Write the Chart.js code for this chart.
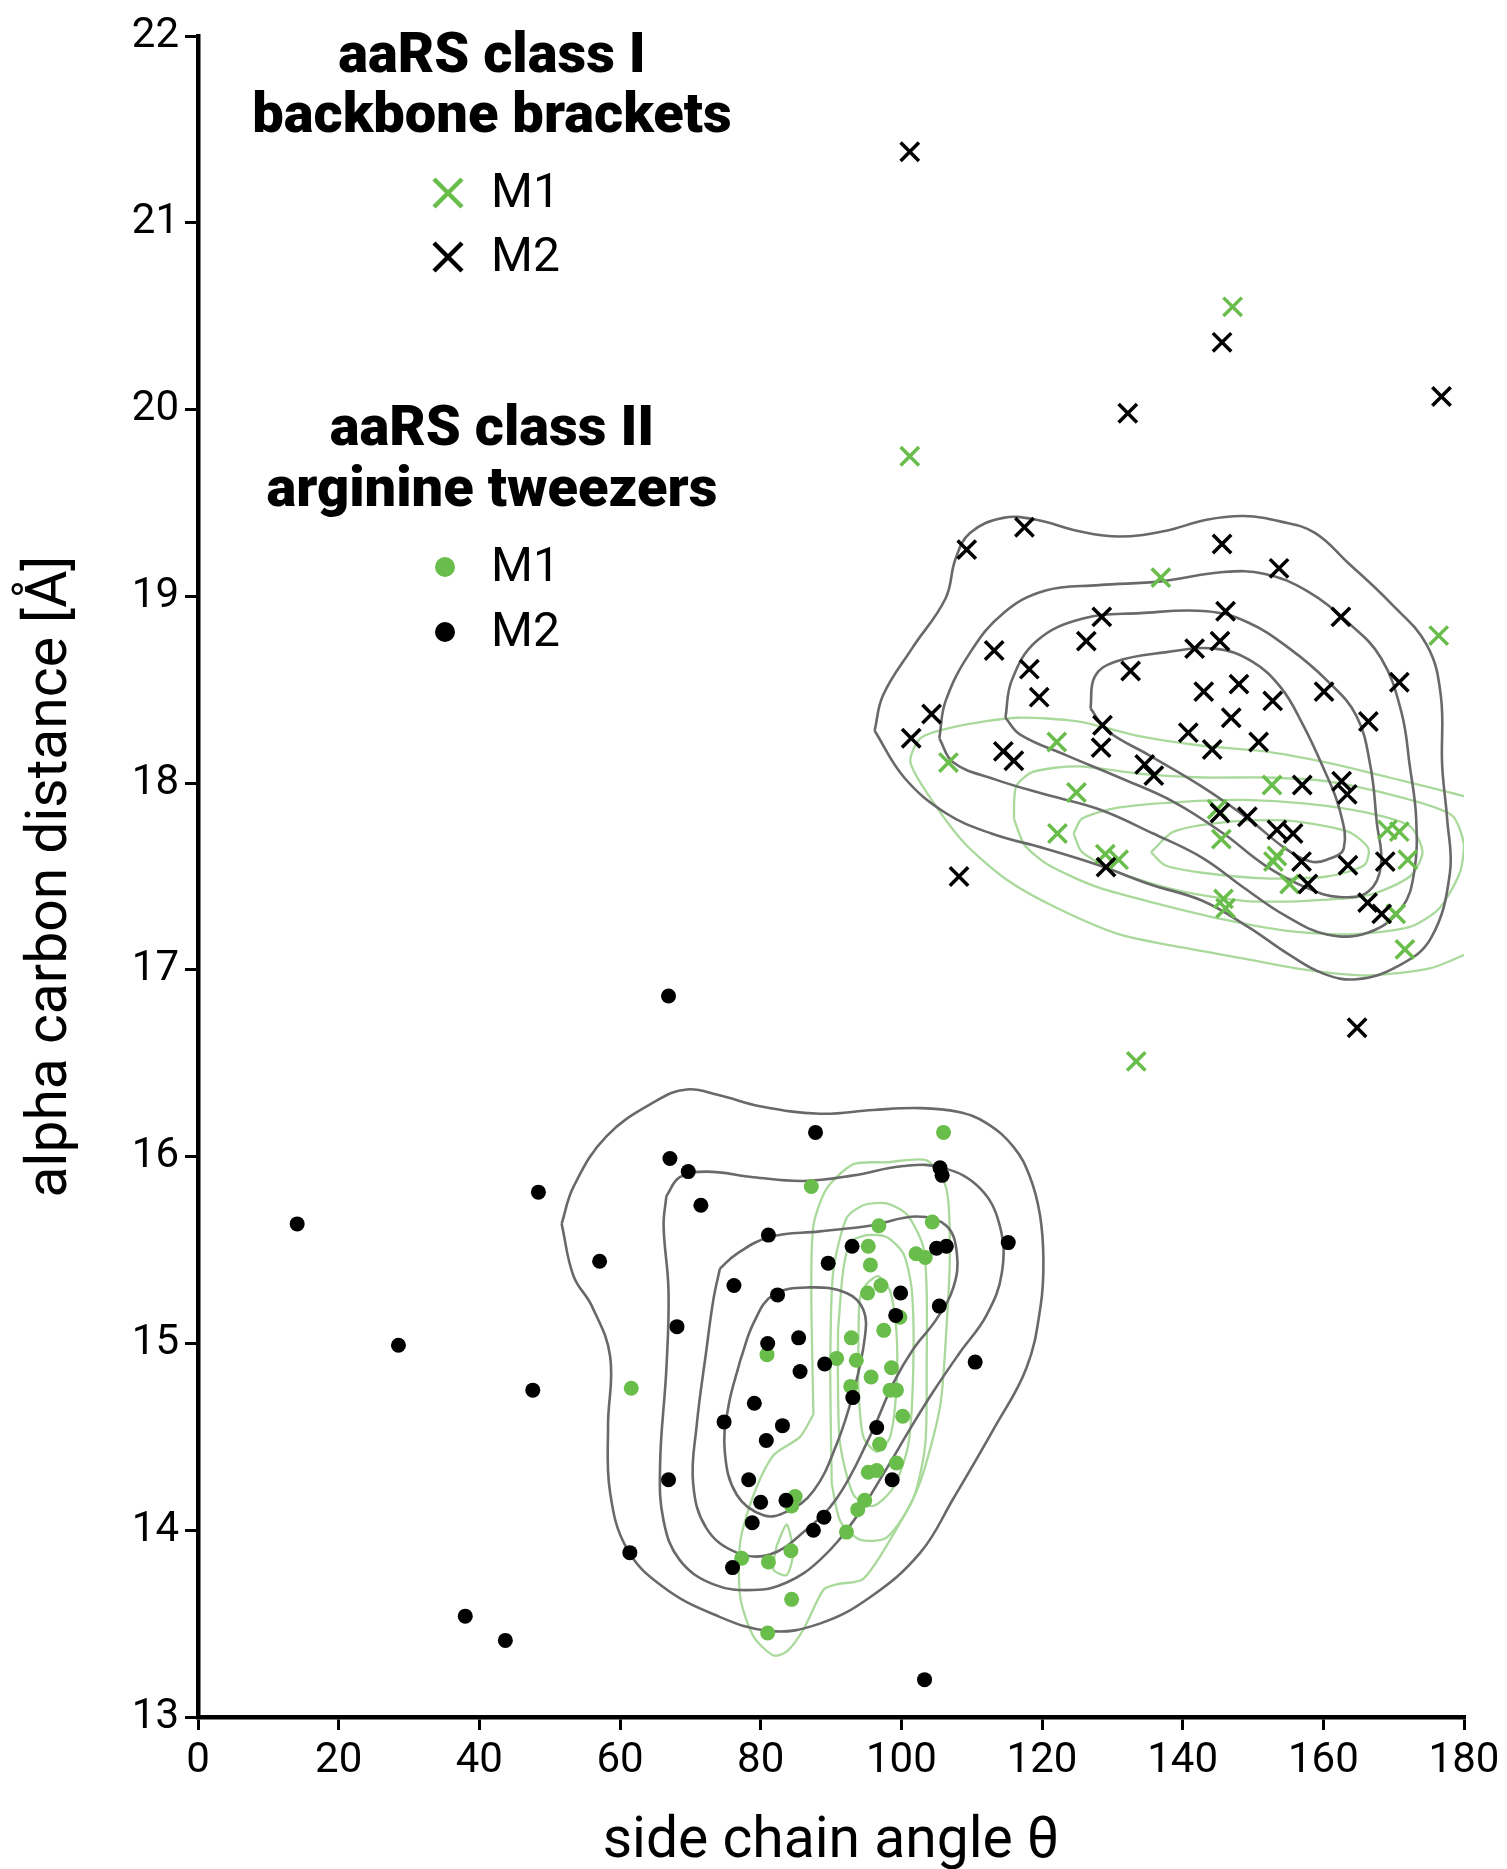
<!DOCTYPE html>
<html>
<head>
<meta charset="utf-8">
<title>aaRS side chain angle vs alpha carbon distance</title>
<script src="https://cdn.jsdelivr.net/npm/chart.js@4.4.1/dist/chart.umd.min.js"></script>
<style>
  html, body { margin: 0; padding: 0; background: #fff; }
  canvas { display: block; }
</style>
</head>
<body>
<canvas id="plot" width="1507" height="1869"></canvas>
<script>
// points are [side chain angle (deg), alpha carbon distance (Å)]

// aaRS class I, backbone brackets
const classI_M1 = [
  [147.1, 20.55], [101.2, 19.75], [133.4, 16.51], [136.9, 19.10], [176.4, 18.79],
  [122.1, 18.22], [106.7, 18.11], [152.7, 17.99], [124.9, 17.95], [144.9, 17.86],
  [145.5, 17.70], [122.2, 17.73], [129.0, 17.62], [130.9, 17.59], [153.4, 17.61],
  [152.9, 17.58], [155.2, 17.46], [145.8, 17.38], [146.1, 17.33], [169.1, 17.75],
  [170.8, 17.74], [172.0, 17.59], [170.3, 17.30], [171.6, 17.11]
];
const classI_M2 = [
  [101.2, 21.38], [145.6, 20.36], [132.2, 19.98], [176.8, 20.07],
  [117.5, 19.37], [109.3, 19.25], [145.6, 19.28], [153.7, 19.15], [146.1, 18.92],
  [162.5, 18.89], [128.5, 18.89], [126.3, 18.76], [141.7, 18.72], [145.3, 18.76],
  [113.2, 18.71], [118.2, 18.61], [132.6, 18.60], [170.8, 18.54], [119.6, 18.46],
  [143.0, 18.49], [148.0, 18.53], [152.8, 18.44], [160.1, 18.49], [104.3, 18.37],
  [101.4, 18.24], [128.6, 18.31], [146.9, 18.35], [140.8, 18.27], [166.4, 18.33],
  [128.4, 18.19], [144.2, 18.18], [150.8, 18.22], [114.5, 18.17], [116.0, 18.12],
  [134.6, 18.10], [135.9, 18.04], [157.0, 17.99], [162.6, 18.01], [163.4, 17.94],
  [145.3, 17.84], [149.2, 17.82], [153.4, 17.75], [155.7, 17.73], [129.1, 17.55],
  [156.9, 17.58], [163.5, 17.56], [168.8, 17.58], [157.8, 17.46], [166.3, 17.36],
  [168.3, 17.30], [108.2, 17.50], [164.8, 16.69]
];

// aaRS class II, arginine tweezers
const classII_M1 = [
  [106.0, 16.13], [87.2, 15.84], [96.8, 15.63], [104.4, 15.65], [95.3, 15.52],
  [102.1, 15.48], [103.4, 15.46], [95.6, 15.42], [97.1, 15.31], [95.2, 15.27],
  [97.5, 15.07], [92.9, 15.03], [99.8, 15.14], [90.8, 14.92], [93.6, 14.91],
  [95.7, 14.82], [98.6, 14.87], [92.8, 14.77], [98.4, 14.75], [99.3, 14.75],
  [80.9, 14.94], [100.2, 14.61], [96.9, 14.46], [99.3, 14.36], [95.3, 14.31],
  [96.5, 14.32], [94.8, 14.16], [93.8, 14.11], [84.9, 14.18], [84.4, 14.13],
  [92.2, 13.99], [84.3, 13.89], [77.3, 13.85], [81.1, 13.83], [84.4, 13.63],
  [81.0, 13.45], [61.6, 14.76]
];
const classII_M2 = [
  [14.1, 15.64], [28.5, 14.99], [38.0, 13.54], [43.7, 13.41], [66.9, 16.86],
  [87.8, 16.13], [67.1, 15.99], [69.7, 15.92], [48.4, 15.81], [71.5, 15.74],
  [105.5, 15.94], [105.8, 15.90], [57.1, 15.44], [81.1, 15.58], [93.0, 15.52],
  [105.0, 15.51], [106.4, 15.52], [115.2, 15.54], [89.6, 15.43], [76.2, 15.31],
  [99.9, 15.27], [82.4, 15.26], [99.2, 15.15], [105.4, 15.20], [68.1, 15.09],
  [81.0, 15.00], [85.4, 15.03], [85.6, 14.85], [89.1, 14.89], [110.5, 14.90],
  [47.6, 14.75], [93.1, 14.71], [79.1, 14.68], [74.8, 14.58], [83.1, 14.56],
  [80.8, 14.48], [96.5, 14.55], [66.9, 14.27], [78.3, 14.27], [98.7, 14.27],
  [80.0, 14.15], [83.6, 14.16], [78.8, 14.04], [89.0, 14.07], [87.5, 14.00],
  [61.4, 13.88], [76.0, 13.80], [103.3, 13.20]
];

// density contour paths, outermost level first
const bracketsM2Contours = [
  [[96.2, 18.28], [97.4, 18.47], [101.5, 18.72], [106.3, 18.99], [107.7, 19.20], [109.8, 19.34],
   [114.5, 19.42], [119.2, 19.41], [125.1, 19.35], [131.0, 19.32], [137.5, 19.35], [143.4, 19.41],
   [148.7, 19.43], [154.0, 19.40], [158.8, 19.34], [163.5, 19.18], [169.4, 18.97], [174.7, 18.74],
   [176.7, 18.47], [176.9, 18.09], [177.6, 17.81], [178.0, 17.52], [175.3, 17.17], [170.6, 17.02],
   [164.7, 16.95], [160.0, 16.98], [155.2, 17.08], [149.3, 17.23], [142.8, 17.37], [135.2, 17.46],
   [128.1, 17.56], [120.4, 17.65], [112.8, 17.73], [106.3, 17.84], [100.4, 18.03], [96.2, 18.28]],
  [[105.4, 18.24], [106.3, 18.44], [109.8, 18.70], [114.5, 18.91], [120.4, 19.03], [128.1, 19.06],
   [136.9, 19.08], [145.8, 19.13], [151.7, 19.12], [157.6, 19.03], [163.5, 18.86], [168.2, 18.67],
   [171.1, 18.38], [172.3, 18.09], [173.2, 17.81], [172.9, 17.52], [171.1, 17.33], [166.4, 17.20],
   [160.5, 17.19], [154.6, 17.29], [148.7, 17.44], [142.8, 17.60], [135.8, 17.73], [128.1, 17.86],
   [120.4, 17.94], [113.3, 18.02], [107.4, 18.11], [105.4, 18.24]],
  [[114.8, 18.35], [115.7, 18.55], [119.2, 18.76], [125.7, 18.88], [134.0, 18.91], [143.4, 18.92],
   [149.3, 18.86], [155.2, 18.72], [160.5, 18.55], [164.7, 18.36], [166.7, 18.09], [167.6, 17.79],
   [168.2, 17.56], [166.4, 17.42], [162.3, 17.39], [157.6, 17.44], [151.7, 17.56], [145.8, 17.73],
   [138.7, 17.90], [131.0, 18.03], [123.4, 18.15], [116.9, 18.26], [114.8, 18.35]],
  [[126.9, 18.40], [127.5, 18.57], [130.4, 18.65], [137.5, 18.70], [144.6, 18.72], [149.9, 18.65],
   [154.0, 18.51], [157.0, 18.32], [159.9, 18.09], [162.3, 17.86], [162.9, 17.65], [160.5, 17.59],
   [158.2, 17.58], [154.6, 17.65], [149.3, 17.81], [142.8, 17.98], [135.2, 18.15], [129.3, 18.28],
   [126.9, 18.40]]
];
const bracketsM1Contours = [
  [[182.0, 17.90], [180.0, 17.93], [169.4, 18.03], [160.5, 18.11], [151.7, 18.17], [142.8, 18.20],
   [134.0, 18.25], [125.1, 18.33], [116.3, 18.35], [107.4, 18.30], [102.7, 18.24], [101.3, 18.11],
   [104.5, 17.90], [109.2, 17.67], [115.1, 17.48], [122.2, 17.33], [131.0, 17.19], [139.9, 17.12],
   [148.7, 17.06], [157.6, 17.00], [166.4, 16.97], [175.3, 17.01], [180.0, 17.08], [182.0, 17.12]],
  [[116.0, 17.81], [116.3, 17.98], [118.7, 18.06], [125.1, 18.09], [134.0, 18.05], [142.8, 18.03],
   [151.7, 18.03], [160.5, 18.01], [169.4, 17.94], [178.2, 17.83], [180.0, 17.67], [179.4, 17.52],
   [176.5, 17.33], [172.3, 17.23], [163.5, 17.19], [154.6, 17.21], [145.8, 17.27], [136.9, 17.35],
   [128.1, 17.44], [121.0, 17.56], [117.5, 17.67], [116.0, 17.81]],
  [[124.5, 17.73], [125.7, 17.81], [131.0, 17.87], [139.9, 17.90], [148.7, 17.91], [157.6, 17.89],
   [166.4, 17.84], [172.3, 17.77], [174.1, 17.63], [172.3, 17.50], [166.4, 17.40], [157.6, 17.37],
   [148.7, 17.37], [139.9, 17.42], [131.0, 17.52], [125.7, 17.63], [124.5, 17.73]],
  [[135.5, 17.63], [138.7, 17.74], [145.8, 17.79], [154.6, 17.80], [163.5, 17.74], [166.4, 17.65],
   [165.8, 17.56], [160.5, 17.50], [151.7, 17.49], [142.8, 17.52], [137.5, 17.56], [135.5, 17.63]]
];
const tweezersM2Contours = [
  [[51.7, 15.64], [53.4, 15.84], [58.1, 16.11], [65.2, 16.30], [69.5, 16.36], [74.0, 16.33],
   [79.9, 16.27], [88.4, 16.23], [96.0, 16.25], [102.6, 16.26], [108.0, 16.24], [112.1, 16.18],
   [116.0, 16.05], [118.3, 15.89], [119.7, 15.69], [120.2, 15.45], [119.8, 15.20], [117.8, 14.87],
   [113.1, 14.54], [107.4, 14.17], [102.7, 13.88], [95.5, 13.64], [88.4, 13.50], [81.3, 13.46],
   [73.3, 13.55], [66.0, 13.70], [61.0, 13.90], [58.6, 14.20], [58.3, 14.56], [58.6, 14.93],
   [56.0, 15.20], [53.4, 15.36], [51.7, 15.64]],
  [[66.6, 15.79], [68.5, 15.89], [72.3, 15.92], [79.0, 15.89], [86.1, 15.87], [93.2, 15.90],
   [100.3, 15.95], [106.0, 15.94], [111.2, 15.83], [114.0, 15.63], [114.3, 15.38], [112.1, 15.15],
   [108.3, 14.95], [104.5, 14.74], [101.2, 14.54], [97.9, 14.33], [93.2, 14.05], [88.4, 13.84],
   [83.7, 13.72], [79.0, 13.68], [73.3, 13.71], [68.5, 13.84], [66.2, 14.05], [65.7, 14.35],
   [66.6, 14.87], [66.9, 15.28], [66.2, 15.63], [66.6, 15.79]],
  [[74.2, 15.40], [76.6, 15.48], [81.3, 15.57], [88.4, 15.60], [95.5, 15.63], [102.2, 15.68],
   [106.4, 15.63], [107.9, 15.48], [107.4, 15.30], [105.0, 15.13], [101.7, 14.97], [98.9, 14.79],
   [95.5, 14.50], [90.8, 14.17], [86.1, 13.99], [81.3, 13.87], [76.6, 13.88], [72.3, 14.01],
   [70.4, 14.25], [70.9, 14.56], [72.3, 14.97], [73.3, 15.24], [74.2, 15.40]],
  [[77.1, 14.91], [79.0, 15.11], [81.8, 15.26], [87.0, 15.30], [92.2, 15.27], [94.6, 15.18],
   [94.8, 15.03], [93.2, 14.74], [90.8, 14.46], [87.5, 14.21], [83.7, 14.10], [80.4, 14.08],
   [76.6, 14.19], [74.9, 14.42], [75.4, 14.66], [77.1, 14.91]]
];
const tweezersM1Contours = [
  [[87.5, 14.62], [87.2, 15.28], [87.5, 15.63], [89.4, 15.83], [93.2, 15.96], [97.9, 15.97],
   [103.6, 15.98], [106.4, 15.83], [106.9, 15.48], [106.4, 15.07], [105.5, 14.66], [102.6, 14.25],
   [98.9, 13.98], [94.6, 13.74], [90.8, 13.71], [88.9, 13.68], [86.1, 13.47], [83.7, 13.35],
   [81.8, 13.33], [79.0, 13.43], [77.1, 13.64], [77.1, 13.94], [79.0, 14.19], [81.8, 14.40],
   [85.6, 14.50], [87.5, 14.62]],
  [[82.3, 13.92], [83.7, 14.03], [84.6, 13.88], [83.7, 13.76], [81.8, 13.79], [82.3, 13.92]],
  [[90.1, 14.25], [89.9, 14.87], [90.3, 15.38], [92.2, 15.67], [94.6, 15.74], [97.9, 15.75],
   [100.8, 15.69], [103.1, 15.52], [103.6, 15.28], [103.6, 14.87], [103.4, 14.46], [101.7, 14.17],
   [97.9, 13.96], [94.1, 13.95], [91.3, 14.05], [90.1, 14.25]],
  [[91.0, 15.07], [91.7, 15.38], [92.7, 15.54], [95.1, 15.58], [97.9, 15.57], [100.3, 15.48],
   [101.5, 15.28], [101.7, 14.87], [101.0, 14.46], [98.9, 14.23], [96.0, 14.13], [93.2, 14.19],
   [91.3, 14.46], [91.0, 14.76], [91.0, 15.07]],
  [[93.9, 15.03], [94.1, 15.24], [95.1, 15.32], [96.7, 15.36], [98.4, 15.28], [99.3, 15.07],
   [99.3, 14.76], [98.4, 14.50], [96.5, 14.42], [94.6, 14.50], [93.9, 14.76], [93.9, 15.03]]
];

const xTicks = [0, 20, 40, 60, 80, 100, 120, 140, 160, 180];
const yTicks = [13, 14, 15, 16, 17, 18, 19, 20, 21, 22];

const GREEN = '#69bd4a';
const GREEN_LINE = '#a9d99b';
const GREY_LINE = '#696969';
const FONT = 'Roboto, "Liberation Sans", sans-serif';

const toXY = (pts) => pts.map(([x, y]) => ({ x, y }));

function contourSets(paths, color, width, tension, order) {
  return paths.map((p) => ({
    data: toXY(p),
    showLine: true,
    borderColor: color,
    borderWidth: width,
    tension: tension,
    pointRadius: 0,
    fill: false,
    order: order,
  }));
}

const datasets = [
  ...contourSets(bracketsM1Contours, GREEN_LINE, 2.3, 0.25, 5),
  ...contourSets(tweezersM1Contours, GREEN_LINE, 2.3, 0.25, 5),
  ...contourSets(bracketsM2Contours, GREY_LINE, 2.6, 0.4, 4),
  ...contourSets(tweezersM2Contours, GREY_LINE, 2.6, 0.4, 4),
  { label: 'class I M1', data: toXY(classI_M1), pointStyle: 'crossRot', pointRadius: 13,
    borderColor: GREEN, borderWidth: 3.5, order: 1 },
  { label: 'class II M1', data: toXY(classII_M1), pointStyle: 'circle', pointRadius: 7.5,
    backgroundColor: GREEN, borderColor: GREEN, borderWidth: 0, order: 1 },
  { label: 'class I M2', data: toXY(classI_M2), pointStyle: 'crossRot', pointRadius: 13,
    borderColor: '#000', borderWidth: 3.5, order: 0 },
  { label: 'class II M2', data: toXY(classII_M2), pointStyle: 'circle', pointRadius: 7.5,
    backgroundColor: '#000', borderColor: '#000', borderWidth: 0, order: 0 },
];

// two-block key drawn in the upper left of the plot area
const groupKey = {
  id: 'groupKey',
  afterDraw(chart) {
    const c = chart.ctx;
    const cx = 492, markX = 448, textX = 491;
    c.save();
    c.fillStyle = '#000';
    c.textAlign = 'center';
    c.textBaseline = 'middle';
    c.font = '900 56px ' + FONT;
    c.fillText('aaRS class I', cx, 58);
    c.fillText('backbone brackets', cx, 118);
    c.fillText('aaRS class II', cx, 431);
    c.fillText('arginine tweezers', cx, 492);

    c.textAlign = 'left';
    c.font = '48px ' + FONT;
    const rows = [
      { y: 193, label: 'M1', color: GREEN, cross: true },
      { y: 257, label: 'M2', color: '#000', cross: true },
      { y: 567, label: 'M1', color: GREEN, cross: false },
      { y: 632, label: 'M2', color: '#000', cross: false },
    ];
    rows.forEach((r) => {
      if (r.cross) {
        const h = 14;
        c.strokeStyle = r.color;
        c.lineWidth = 4.5;
        c.beginPath();
        c.moveTo(markX - h, r.y - h); c.lineTo(markX + h, r.y + h);
        c.moveTo(markX - h, r.y + h); c.lineTo(markX + h, r.y - h);
        c.stroke();
      } else {
        c.fillStyle = r.color;
        c.beginPath();
        c.arc(markX - 3, r.y, 10, 0, Math.PI * 2);
        c.fill();
      }
      c.fillStyle = '#000';
      c.fillText(r.label, textX, r.y + 2);
    });
    c.restore();
  }
};

new Chart(document.getElementById('plot').getContext('2d'), {
  type: 'scatter',
  data: { datasets },
  plugins: [groupKey],
  options: {
    responsive: false,
    animation: false,
    layout: { padding: { top: 36, right: 43, left: 0, bottom: 0 } },
    plugins: { legend: { display: false }, tooltip: { enabled: false } },
    scales: {
      x: {
        type: 'linear', min: 0, max: 180,
        afterBuildTicks: (s) => { s.ticks = xTicks.map((v) => ({ value: v })); },
        afterFit: (s) => { s.height = 152; },
        ticks: { color: '#000', font: { family: FONT, size: 42 }, padding: 6, maxRotation: 0 },
        grid: { drawOnChartArea: false, drawTicks: true, tickLength: 13, color: '#000', lineWidth: 3 },
        border: { display: true, color: '#000', width: 4.5 },
        title: { display: true, text: 'side chain angle θ', color: '#000',
                 font: { family: FONT, size: 57 }, padding: { top: 0, bottom: -8 } },
      },
      y: {
        type: 'linear', min: 13, max: 22,
        afterBuildTicks: (s) => { s.ticks = yTicks.map((v) => ({ value: v })); },
        afterFit: (s) => { s.width = 198; },
        ticks: { color: '#000', font: { family: FONT, size: 42 }, padding: 6 },
        grid: { drawOnChartArea: false, drawTicks: true, tickLength: 13, color: '#000', lineWidth: 3 },
        border: { display: true, color: '#000', width: 4.5 },
        title: { display: true, text: 'alpha carbon distance [Å]', color: '#000',
                 font: { family: FONT, size: 57 }, padding: { top: 18, bottom: 0 } },
      },
    },
  },
});
</script>
</body>
</html>
